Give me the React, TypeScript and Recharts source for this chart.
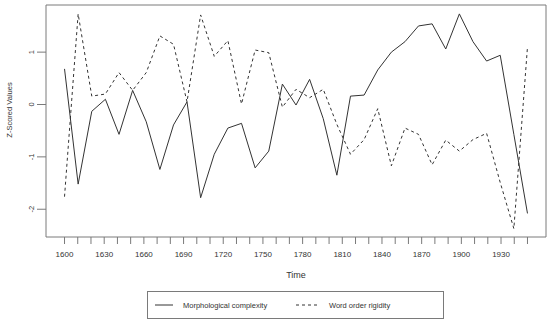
import { LineChart, Line, XAxis, YAxis, ReferenceArea, Legend } from 'recharts';

// time points: 35 evenly spaced samples from 1600 to 1950
const years = [
  1600, 1610.3, 1620.6, 1630.9, 1641.2, 1651.5, 1661.8, 1672.1, 1682.4, 1692.6,
  1702.9, 1713.2, 1723.5, 1733.8, 1744.1, 1754.4, 1764.7, 1775.0, 1785.3, 1795.6,
  1805.9, 1816.2, 1826.5, 1836.8, 1847.1, 1857.4, 1867.6, 1877.9, 1888.2, 1898.5,
  1908.8, 1919.1, 1929.4, 1939.7, 1950,
];

const morphological = [
  0.68, -1.52, -0.13, 0.10, -0.57, 0.27, -0.33, -1.24, -0.39, 0.05,
  -1.78, -0.95, -0.45, -0.36, -1.21, -0.89, 0.39, -0.01, 0.48, -0.27,
  -1.35, 0.16, 0.18, 0.66, 1.0, 1.20, 1.50, 1.54, 1.06, 1.73,
  1.20, 0.83, 0.94, -0.57, -2.08,
];

const wordOrder = [
  -1.76, 1.73, 0.16, 0.20, 0.61, 0.27, 0.61, 1.31, 1.15, 0.05,
  1.71, 0.92, 1.22, 0.01, 1.04, 0.99, -0.05, 0.29, 0.13, 0.29,
  -0.38, -0.95, -0.67, -0.08, -1.17, -0.45, -0.57, -1.15, -0.68, -0.89,
  -0.67, -0.55, -1.49, -2.37, 1.10,
];

const xTicks = [
  1600, 1610, 1620, 1630, 1640, 1650, 1660, 1670, 1680, 1690, 1700, 1710,
  1720, 1730, 1740, 1750, 1760, 1770, 1780, 1790, 1800, 1810, 1820, 1830,
  1840, 1850, 1860, 1870, 1880, 1890, 1900, 1910, 1920, 1930, 1940, 1950,
];
const xLabelled = [1600, 1630, 1660, 1690, 1720, 1750, 1780, 1810, 1840, 1870, 1900, 1930];
const yTicks = [-2, -1, 0, 1];

const data = years.map((t, i) => ({ t, morph: morphological[i], word: wordOrder[i] }));

const FONT = '"Liberation Sans", Arial, sans-serif';
const INK = '#333333';
const FRAME = '#7a7a7a';
const X_DOMAIN: [number, number] = [1586, 1964];
const Y_DOMAIN: [number, number] = [-2.53, 1.9];

function XTick(props: any) {
  const { x, y, payload } = props;
  if (!xLabelled.includes(payload.value)) return <g />;
  return (
    <text x={x} y={y} dy="0.71em" textAnchor="middle" fontSize={8} fill={INK} fontFamily={FONT}>
      {payload.value}
    </text>
  );
}

function YTick(props: any) {
  const { x, y, payload } = props;
  const bx = x - 1;
  return (
    <text x={bx} y={y} transform={`rotate(-90, ${bx}, ${y})`} textAnchor="middle" fontSize={7.5} fill={INK} fontFamily={FONT}>
      {payload.value}
    </text>
  );
}

function LegendBox() {
  return (
    <svg width={298} height={29} style={{ display: 'block' }}>
      <rect x={0.5} y={0.5} width={296} height={27} fill="#fff" stroke={FRAME} />
      <line x1={8} x2={26} y1={14} y2={14} stroke={INK} strokeWidth={1} />
      <text x={36} y={14} dy="0.35em" fontSize={7.5} fill={INK} fontFamily={FONT}>Morphological complexity</text>
      <line x1={149} x2={173} y1={14} y2={14} stroke={INK} strokeWidth={1} strokeDasharray="3 3" />
      <text x={182} y={14} dy="0.35em" fontSize={7.5} fill={INK} fontFamily={FONT}>Word order rigidity</text>
    </svg>
  );
}

export default function App() {
  return (
    <div style={{ position: 'absolute', left: 0, top: 0, width: 550, height: 323, background: '#fff' }}>
      <LineChart width={550} height={323} data={data} margin={{ top: 5, right: 4, bottom: 0, left: 0 }}>
        <XAxis
          dataKey="t"
          type="number"
          domain={X_DOMAIN}
          ticks={xTicks}
          interval={0}
          height={86}
          axisLine={false}
          tickLine={{ stroke: FRAME }}
          tickSize={7}
          tickMargin={7}
          tick={<XTick />}
          allowDataOverflow
          label={{
            content: () => (
              <text x={296} y={278} textAnchor="middle" fontSize={9} fill={INK} fontFamily={FONT}>Time</text>
            ),
          }}
        />
        <YAxis
          type="number"
          domain={Y_DOMAIN}
          ticks={yTicks}
          width={46}
          axisLine={false}
          tickLine={{ stroke: FRAME }}
          tickSize={9}
          tickMargin={2}
          tick={<YTick />}
          allowDataOverflow
          label={{
            content: () => (
              <text x={12} y={110} transform="rotate(-90, 12, 110)" textAnchor="middle" fontSize={7.5} fill={INK} fontFamily={FONT}>
                Z-Scored Values
              </text>
            ),
          }}
        />
        <ReferenceArea x1={X_DOMAIN[0]} x2={X_DOMAIN[1]} y1={Y_DOMAIN[0]} y2={Y_DOMAIN[1]} fill="none" stroke={FRAME} strokeWidth={1} />
        <Line dataKey="morph" type="linear" stroke={INK} strokeWidth={1} dot={false} isAnimationActive={false} />
        <Line dataKey="word" type="linear" stroke={INK} strokeWidth={1} strokeDasharray="3 3" dot={false} isAnimationActive={false} />
        <Legend
          layout="horizontal"
          verticalAlign="middle"
          align="center"
          content={<LegendBox />}
          wrapperStyle={{ top: 291, left: 147, width: 298, height: 29 }}
        />
      </LineChart>
    </div>
  );
}
